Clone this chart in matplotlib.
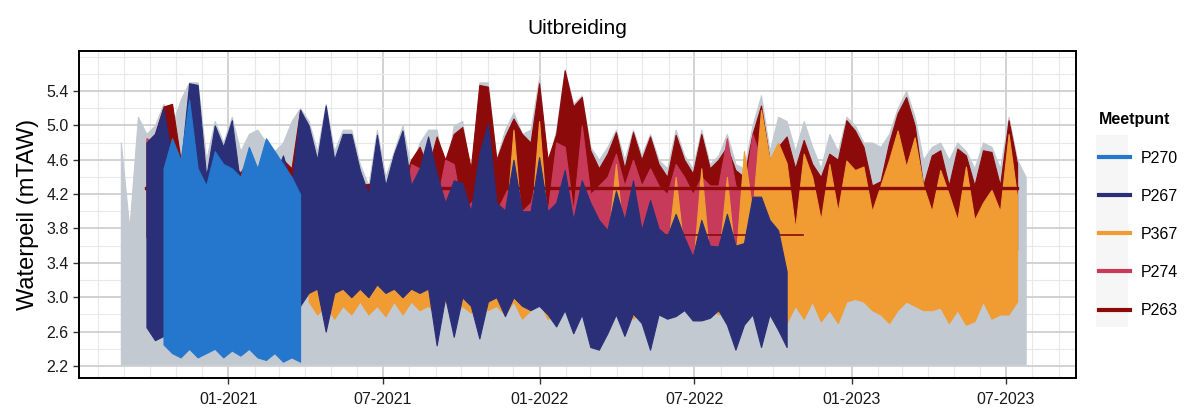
import matplotlib
matplotlib.use("Agg")
import matplotlib.pyplot as plt
import matplotlib.dates as mdates
from matplotlib.lines import Line2D
from matplotlib.patches import Rectangle
from matplotlib.ticker import FixedLocator, FormatStrFormatter
import numpy as np
import pandas as pd

plt.rcParams['font.family'] = ['Liberation Sans', 'DejaVu Sans']

# envelopes (min / max over each 10-day window), water level in mTAW
step = '10D'

# all other piezometers, drawn as grey background
grey_start = '2020-08-28'
grey_floor = 2.22
grey_hi = [4.8, 3.8, 5.1, 4.9, 5.0, 5.25, 5.0, 5.3, 5.5, 5.5,
           4.6, 5.05, 4.8, 5.1, 4.7, 4.9, 4.95, 4.8, 4.7, 4.8,
           5.05, 5.2, 5.05, 4.7, 5.25, 4.7, 4.95, 4.95, 4.55, 4.3,
           4.95, 4.4, 4.7, 5.0, 4.5, 4.8, 4.95, 4.95, 4.4, 5.0,
           5.05, 4.4, 5.5, 5.5, 4.6, 4.95, 5.15, 4.9, 4.95, 5.55,
           4.5, 4.95, 5.65, 5.25, 5.35, 4.75, 4.6, 4.75, 4.95, 4.6,
           4.95, 4.65, 4.9, 4.6, 4.5, 4.95, 4.65, 4.5, 4.95, 4.55,
           4.65, 4.9, 4.55, 4.5, 5.0, 5.35, 4.7, 5.1, 5.05, 4.7,
           5.05, 4.75, 4.5, 4.9, 4.7, 5.1, 5.0, 4.8, 4.8, 4.75,
           4.9, 5.2, 5.4, 5.1, 4.6, 4.75, 4.8, 4.6, 4.8, 4.7,
           4.5, 4.8, 4.75, 4.5, 5.1, 4.6, 4.4]

# P263
p263_start = '2020-09-27'
p263_hi = [4.8, 4.9, 5.22, 5.25, 4.6, 4.5, 4.5, 4.45, 4.6, 4.5,
           4.55, 4.45, 4.6, 4.5, 4.55, 4.5, 4.6, 4.5, 5.18, 4.6,
           4.5, 4.6, 4.5, 4.55, 4.3, 4.3, 4.32, 4.3, 4.3, 4.32,
           4.3, 4.6, 4.75, 4.5, 4.87, 4.6, 4.9, 4.98, 4.5, 5.47,
           5.45, 4.6, 4.87, 5.08, 4.9, 4.8, 5.49, 4.6, 4.9, 5.64,
           5.22, 5.33, 4.71, 4.5, 4.67, 4.92, 4.5, 4.92, 4.6, 4.87,
           4.55, 4.4, 4.89, 4.6, 4.44, 4.9, 4.5, 4.6, 4.75, 4.48,
           4.4, 4.9, 5.23, 4.6, 4.75, 4.87, 4.5, 4.83, 4.55, 4.4,
           4.67, 4.6, 5.06, 4.94, 4.75, 4.3, 4.35, 4.8, 5.14, 5.33,
           5.0, 4.3, 4.65, 4.71, 4.3, 4.73, 4.65, 4.3, 4.71, 4.69,
           4.3, 5.06, 4.55]
p263_lo = [3.7, 3.6, 3.6, 3.5, 3.6, 3.55, 3.6, 3.5, 3.6, 3.55,
           3.6, 3.5, 3.6, 3.55, 3.6, 3.5, 3.6, 3.55, 3.6, 3.5,
           3.6, 3.55, 3.6, 3.5, 3.65, 3.6, 3.7, 3.6, 3.65, 3.6,
           3.7, 3.6, 3.65, 3.55, 3.7, 3.6, 3.65, 3.55, 3.7, 3.6,
           3.65, 3.55, 3.7, 3.6, 3.5, 3.65, 3.6, 3.55, 3.7, 3.5,
           3.6, 3.55, 3.65, 3.5, 3.6, 3.55, 3.7, 3.5, 3.6, 3.55,
           3.65, 3.5, 3.6, 3.55, 3.5, 3.65, 3.55, 3.6, 3.5, 3.65,
           3.55, 3.6, 3.5, 3.55, 3.6, 3.4, 3.7, 3.5, 3.65, 3.45,
           3.6, 3.35, 3.7, 3.9, 3.6, 3.63, 3.8, 3.98, 3.5, 3.24,
           3.39, 3.6, 3.7, 3.55, 2.97, 3.6, 3.5, 2.85, 3.7, 3.5,
           3.32, 3.6, 3.55]
p263_level = 4.27
p263_level2 = 3.72
p263_level2_span = ('2021-12-01', '2022-11-05')

# P274 (two logging periods)
p274a_start = '2020-09-27'
p274a_hi = [4.85, 4.8]
p274a_lo = [3.9, 4.0]
p274b_start = '2021-07-24'
p274b_hi = [4.0, 4.55, 4.5, 4.0, 4.1, 4.6, 4.55, 4.0, 4.1, 4.2,
            4.3, 4.0, 4.2, 4.4, 4.0, 4.1, 4.5, 4.0, 4.8, 4.75,
            4.0, 5.0, 4.2, 4.3, 4.4, 4.67, 4.3, 4.6, 4.3, 4.5,
            4.3, 4.2, 4.55, 4.4, 4.2, 4.4, 4.3, 4.3, 4.85, 4.3,
            4.2, 4.9, 4.6, 4.3, 4.2, 3.9]
p274b_lo = [3.6, 3.5, 3.4, 3.5, 3.3, 3.45, 3.4, 3.5, 3.35, 3.45,
            3.3, 3.4, 3.5, 3.35, 3.45, 3.3, 3.4, 3.5, 3.35, 3.3,
            3.45, 3.4, 3.3, 3.5, 3.35, 3.45, 3.3, 3.4, 3.5, 3.35,
            3.45, 3.3, 3.4, 3.5, 3.35, 3.45, 3.3, 3.4, 3.35, 3.5,
            3.3, 3.45, 3.4, 3.3, 3.5, 3.4]

# P367
p367_start = '2021-04-05'
p367_hi = [4.0, 4.2, 4.5, 4.2, 4.4, 4.1, 4.2, 3.9, 4.4, 4.0,
           4.3, 4.4, 4.0, 4.2, 4.4, 4.1, 3.8, 4.0, 4.1, 3.8,
           4.3, 4.6, 3.8, 3.7, 4.95, 3.8, 3.8, 5.05, 3.8, 3.9,
           4.3, 3.7, 4.1, 3.8, 3.6, 3.6, 4.55, 3.6, 4.1, 3.6,
           3.9, 3.6, 3.5, 4.4, 3.5, 3.3, 4.5, 3.4, 3.4, 4.4,
           3.4, 4.7, 4.0, 5.18, 4.6, 4.8, 4.56, 3.8, 4.67, 4.4,
           3.9, 4.55, 4.0, 4.59, 4.48, 4.52, 4.0, 4.3, 4.6, 4.94,
           4.52, 4.86, 4.3, 4.0, 4.48, 4.2, 3.9, 4.52, 3.9, 4.1,
           4.25, 4.0, 4.9, 4.17]
p367_lo = [2.95, 2.8, 2.9, 2.75, 2.9, 2.8, 2.95, 2.8, 2.9, 2.78,
           2.95, 2.8, 2.95, 2.85, 2.9, 2.8, 2.95, 2.8, 2.9, 2.82,
           2.95, 2.85, 2.9, 2.8, 2.95, 2.75, 2.85, 2.95, 2.75, 2.8,
           2.9, 2.8, 2.85, 2.8, 2.7, 2.85, 2.8, 2.9, 2.75, 2.85,
           2.8, 2.9, 2.85, 2.8, 2.9, 2.8, 2.85, 2.9, 2.8, 2.85,
           2.75, 2.85, 2.8, 2.9, 2.8, 2.85, 2.7, 2.9, 2.75, 2.95,
           2.72, 2.85, 2.7, 2.95, 2.98, 2.95, 2.85, 2.8, 2.7, 2.85,
           2.95, 2.9, 2.85, 2.85, 2.88, 2.7, 2.85, 2.68, 2.72, 2.95,
           2.75, 2.8, 2.8, 2.95]

# P267
p267_start = '2020-09-27'
p267_hi = [4.8, 4.9, 5.2, 4.6, 4.5, 5.49, 5.47, 4.4, 5.0, 4.75,
           5.06, 4.3, 4.6, 4.4, 4.5, 4.4, 4.65, 4.3, 5.18, 5.0,
           4.6, 5.23, 4.6, 4.9, 4.9, 4.48, 4.2, 4.89, 4.3, 4.67,
           4.94, 4.3, 4.5, 4.87, 4.44, 4.1, 4.36, 4.33, 4.0, 4.67,
           5.02, 4.1, 4.01, 4.6, 4.0, 4.0, 4.63, 4.0, 4.1, 4.48,
           3.9, 4.36, 4.1, 3.9, 3.78, 4.24, 3.9, 4.36, 3.78, 4.13,
           3.8, 3.71, 3.97, 3.7, 3.47, 3.9, 3.6, 3.59, 3.97, 3.6,
           3.63, 4.17, 4.17, 3.9, 3.78, 3.3]
p267_lo = [2.65, 2.5, 2.55, 3.0, 2.9, 3.1, 2.95, 3.0, 2.9, 3.05,
           2.95, 3.1, 2.9, 3.0, 3.05, 2.95, 3.1, 3.0, 2.9,
           3.05, 3.1, 2.6, 3.05, 3.1, 3.0, 3.1, 3.0, 3.15, 3.05,
           3.1, 3.0, 3.1, 3.05, 3.1, 2.44, 3.0, 2.54, 3.0, 2.9,
           2.52, 2.95, 3.0, 2.78, 3.0, 2.9, 2.85, 2.9, 2.8, 2.66,
           2.85, 2.58, 2.8, 2.42, 2.39, 2.58, 2.8, 2.55, 2.81, 2.7,
           2.39, 2.8, 2.75, 2.78, 2.85, 2.73, 2.73, 2.76, 2.85, 2.68,
           2.39, 2.68, 2.8, 2.42, 2.8, 2.62, 2.42]

# P270
p270_start = '2020-10-17'
p270_hi = [4.5, 4.85, 4.6, 5.3, 4.5, 4.3, 4.7, 4.55, 4.5, 4.4,
           4.75, 4.5, 4.85, 4.7, 4.55, 4.4, 4.2]
p270_lo = [2.45, 2.35, 2.3, 2.4, 2.3, 2.35, 2.4, 2.3, 2.38, 2.32,
           2.4, 2.3, 2.27, 2.35, 2.25, 2.3, 2.25]

labels = ['P270', 'P267', 'P367', 'P274', 'P263']
colors = {'P270': '#2477cc', 'P267': '#2a2f78', 'P367': '#f09c32',
          'P274': '#c73a5a', 'P263': '#8c0a0a'}
grey = '#c2c9d1'


def dates(start, n):
    return pd.date_range(start, periods=n, freq=step)


def band(ax, start, lo, hi, color, z):
    d = dates(start, len(hi))
    ax.fill_between(d, lo, hi, facecolor=color, edgecolor=color, lw=0.8, zorder=z)


fig = plt.figure(figsize=(11.86, 4.18), dpi=100)
ax = fig.add_axes([79 / 1186, 1 - 378 / 418, 997 / 1186, 327 / 418])

# grey background of the other loggers
gd = dates(grey_start, len(grey_hi))
ax.fill_between(gd, grey_floor, grey_hi, facecolor=grey, edgecolor=grey, lw=0.8, zorder=1)

band(ax, p263_start, p263_lo, p263_hi, colors['P263'], 2)
band(ax, p274a_start, p274a_lo, p274a_hi, colors['P274'], 3)
band(ax, p274b_start, p274b_lo, p274b_hi, colors['P274'], 3)
band(ax, p367_start, p367_lo, p367_hi, colors['P367'], 4)

# P263 sits on its overflow level most of the time
d263 = dates(p263_start, len(p263_hi))
ax.plot([d263[0], d263[-1]], [p263_level, p263_level], color=colors['P263'], lw=2.4, zorder=4.5)
ax.plot(pd.to_datetime(list(p263_level2_span)), [p263_level2, p263_level2],
        color=colors['P263'], lw=1.2, zorder=4.5)

band(ax, p267_start, p267_lo, p267_hi, colors['P267'], 5)
band(ax, p270_start, p270_lo, p270_hi, colors['P270'], 6)

# axes
ax.set_xlim(pd.Timestamp('2020-07-10'), pd.Timestamp('2023-09-21'))
ax.set_ylim(2.06, 5.865)
ax.xaxis.set_major_locator(mdates.MonthLocator(bymonth=[1, 7]))
ax.xaxis.set_minor_locator(mdates.MonthLocator())
ax.xaxis.set_major_formatter(mdates.DateFormatter('%m-%Y'))
ax.yaxis.set_major_locator(FixedLocator(np.round(np.arange(2.2, 5.41, 0.4), 1)))
ax.yaxis.set_minor_locator(FixedLocator(np.round(np.arange(2.0, 5.9, 0.2), 1)))
ax.yaxis.set_major_formatter(FormatStrFormatter('%.1f'))

ax.set_axisbelow(True)
ax.grid(which='major', color='#cfcfcf', lw=1.3)
ax.grid(which='minor', color='#e8e8e8', lw=0.8)
ax.tick_params(which='major', length=4, width=1, color='#333333', labelsize=11.5, labelcolor='#1a1a1a')
ax.tick_params(which='minor', length=0)
ax.tick_params(axis='x', pad=6)
for s in ax.spines.values():
    s.set_color('black')
    s.set_linewidth(1.4)

ax.set_ylabel('Waterpeil (mTAW)', fontsize=17, labelpad=5)
ax.set_title('Uitbreiding', fontsize=15, pad=12)

# legend
fig.patches.append(Rectangle((1096 / 1186, 1 - 327 / 418), 32 / 1186, 192 / 418,
                             transform=fig.transFigure, facecolor='#f6f6f6', edgecolor='none'))
handles = [Line2D([], [], color=colors[k], lw=3) for k in labels]
leg = fig.legend(handles, labels, loc='upper left', bbox_to_anchor=(1085 / 1186, 1 - 98 / 418),
                 frameon=False, fontsize=11.5, title='Meetpunt', handlelength=1.9,
                 labelspacing=1.45, handletextpad=0.7, alignment='left')
leg.get_title().set_fontweight('bold')
leg.get_title().set_fontsize(11.5)

fig.savefig('out.png', dpi=100)
